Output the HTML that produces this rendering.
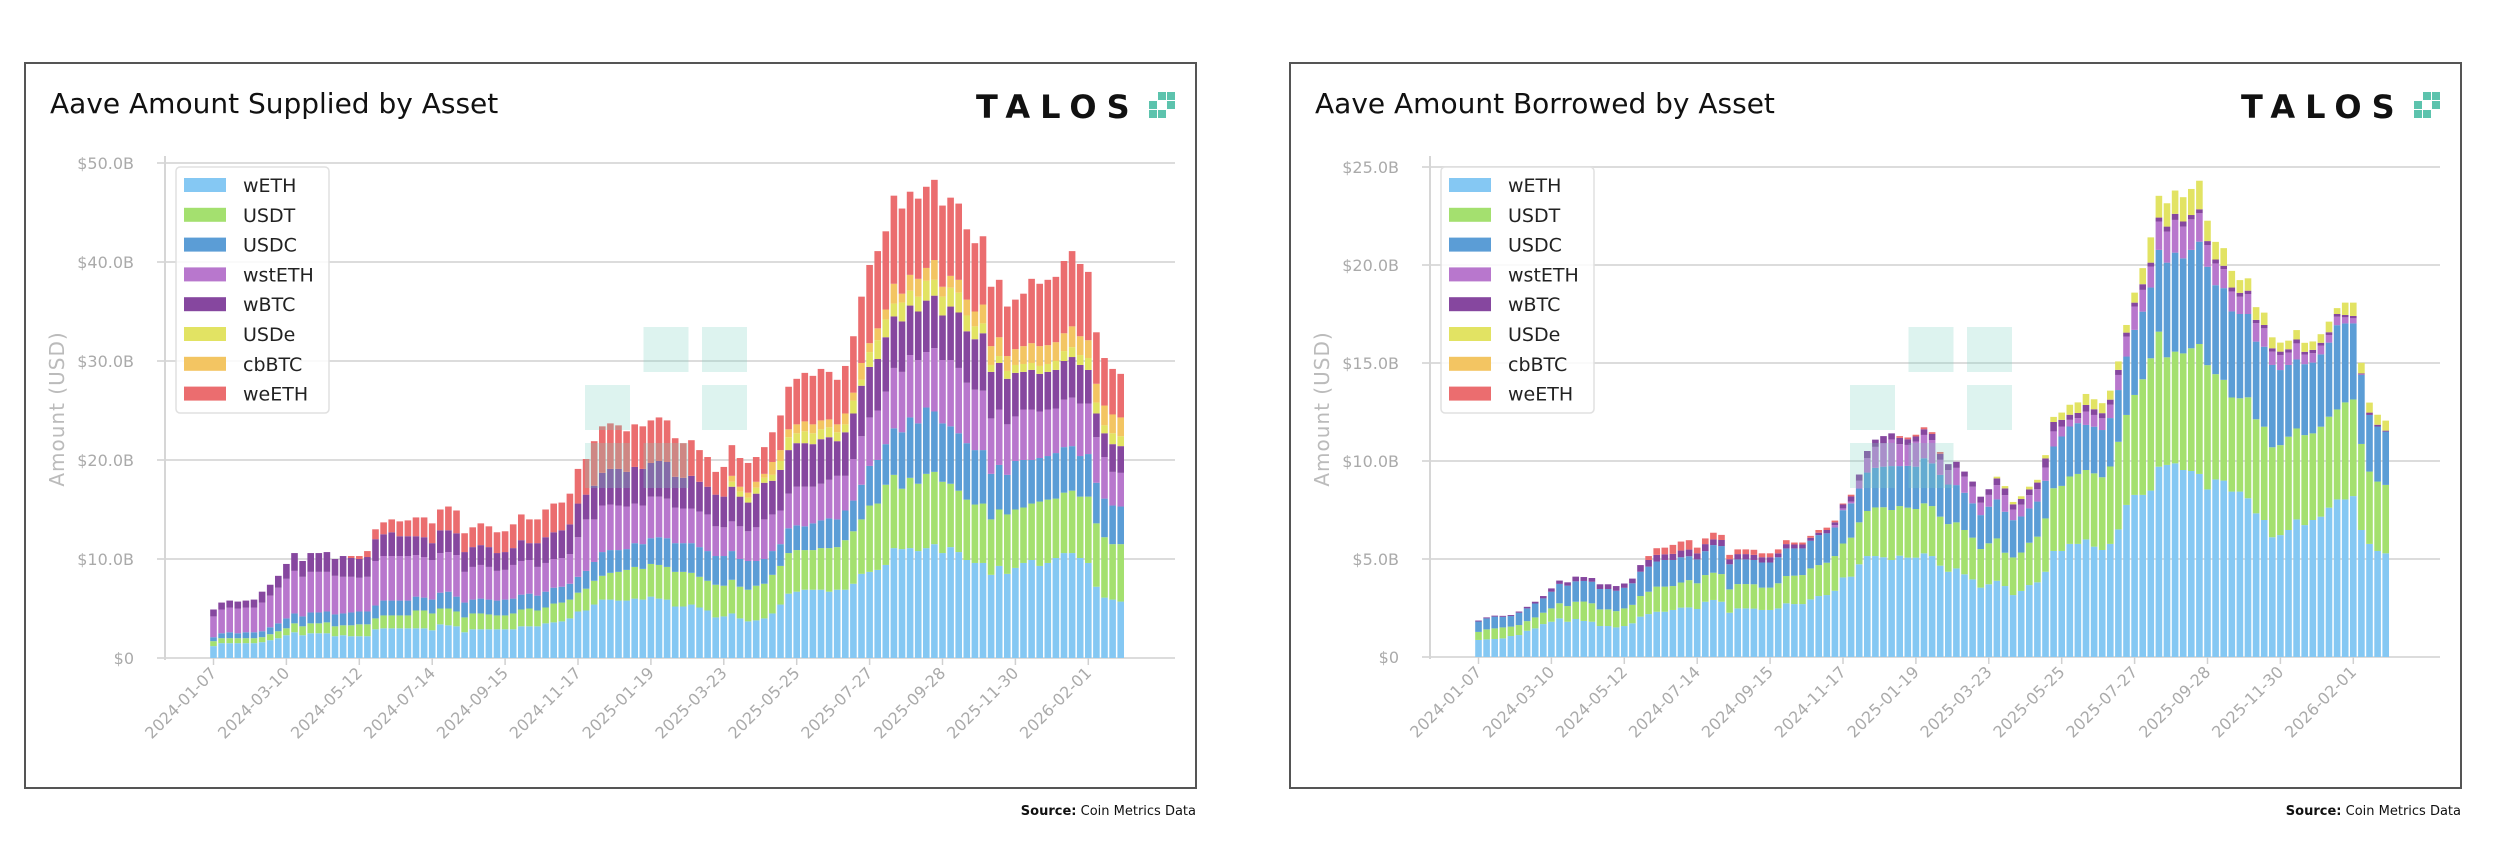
<!DOCTYPE html>
<html>
<head>
<meta charset="utf-8">
<style>
html,body{margin:0;padding:0;background:#fff;}
svg{display:block;font-family:"DejaVu Sans","Liberation Sans",sans-serif;}
</style>
</head>
<body>
<svg id="chart" width="2500" height="856" viewBox="0 0 2500 856" xmlns="http://www.w3.org/2000/svg"></svg>
<script>
// ---------- shared categories / labels ----------
const startDate = "2024-01-07";
const tickLabels = ["2024-01-07","2024-03-10","2024-05-12","2024-07-14","2024-09-15","2024-11-17","2025-01-19","2025-03-23","2025-05-25","2025-07-27","2025-09-28","2025-11-30","2026-02-01"];
const assetNames = ["wETH","USDT","USDC","wstETH","wBTC","USDe","cbBTC","weETH"];
const assetColors = ["#85c8f3","#a4e06f","#5b9dd6","#b877cd","#86479f","#e2e363","#f3c562","#eb6d6f"];

// ---------- Supplied (USD billions) ----------
const supWETH = [
1.2,1.5,1.5,1.5,1.5,1.5,1.6,1.8,2.0,2.3,
2.6,2.3,2.5,2.5,2.5,2.2,2.3,2.2,2.2,2.2,
2.9,3.0,3.0,3.0,3.0,3.0,3.0,2.8,3.4,3.3,
3.2,2.6,2.9,2.9,2.9,2.9,2.9,2.9,3.2,3.2,
3.2,3.5,3.6,3.7,4.0,4.7,4.8,5.4,5.9,5.9,
5.8,5.8,6.0,5.9,6.2,6.0,5.9,5.2,5.2,5.4,
5.1,4.8,4.1,4.2,4.5,4.0,3.7,3.8,4.0,4.5,
5.4,6.5,6.7,6.9,6.9,6.9,6.7,6.9,6.9,7.5,
8.5,8.7,8.9,9.4,11.1,11.0,11.1,10.8,11.1,11.5,
10.6,11.2,10.7,9.9,9.6,9.6,8.4,9.3,8.5,9.1,
9.6,9.9,9.3,9.6,10.1,10.6,10.6,10.1,9.6,7.2,
6.1,5.9,5.7];
const supUSDT = [
0.5,0.5,0.5,0.5,0.5,0.5,0.5,0.6,0.7,0.7,
0.9,0.9,1.0,1.0,1.1,1.0,1.0,1.1,1.2,1.2,
1.1,1.3,1.3,1.3,1.3,1.8,1.8,1.7,1.6,1.7,
1.5,1.5,1.6,1.6,1.5,1.4,1.4,1.6,1.7,1.8,
1.6,1.6,1.9,1.9,1.9,1.9,2.2,2.4,2.4,2.7,
2.9,3.1,3.2,3.1,3.3,3.4,3.3,3.5,3.5,3.2,
3.1,3.0,3.3,3.1,3.4,3.2,3.2,3.5,3.5,3.9,
3.9,4.1,4.2,4.0,4.0,4.2,4.4,4.3,5.0,5.3,
5.5,6.7,6.7,8.1,7.4,6.1,7.1,6.8,7.5,7.3,
7.2,6.4,6.2,6.1,5.9,6.0,5.6,5.7,6.0,5.9,
5.6,5.7,6.5,6.4,6.0,6.1,6.3,6.2,6.7,6.4,
6.1,5.6,5.8];
const supUSDC = [
0.4,0.5,0.6,0.5,0.6,0.6,0.6,0.7,0.8,1.0,
1.0,1.0,1.1,1.1,1.1,1.2,1.2,1.3,1.3,1.3,
1.3,1.5,1.5,1.5,1.5,1.4,1.3,1.4,1.6,1.7,
1.5,1.5,1.4,1.5,1.5,1.5,1.6,1.5,1.5,1.5,
1.5,1.6,1.6,1.6,1.6,1.6,1.8,1.9,2.4,2.3,
2.2,2.1,2.4,2.5,2.6,2.8,2.9,2.9,2.9,3.0,
3.0,3.0,2.9,3.0,2.9,2.8,2.9,2.5,2.5,2.4,
2.2,2.5,2.5,2.4,2.7,2.8,3.0,2.8,3.0,3.1,
3.5,4.0,4.4,4.1,4.7,5.7,6.1,6.1,6.7,6.1,
5.9,5.8,5.8,5.7,5.5,5.4,4.6,4.5,4.0,4.9,
4.8,4.4,4.4,4.4,4.6,4.6,4.5,4.1,4.3,4.1,
3.9,3.9,3.8];
const supWSTETH = [
2.1,2.4,2.5,2.5,2.5,2.5,2.9,3.2,3.6,4.0,
4.3,4.0,4.1,4.1,4.0,3.9,3.7,3.6,3.4,3.5,
4.5,4.5,4.5,4.5,4.5,4.2,4.1,4.0,4.0,4.0,
4.2,3.1,3.3,3.4,3.3,3.0,3.0,3.4,3.4,3.4,
2.9,2.9,2.9,2.9,3.0,4.0,5.2,4.3,4.7,4.6,
4.5,4.3,4.0,3.9,4.2,4.1,4.0,3.6,3.5,3.5,
3.6,3.7,3.0,2.9,3.0,3.3,3.0,3.4,4.0,3.7,
3.4,3.5,3.9,4.0,3.7,3.7,3.9,4.4,3.5,4.2,
4.9,4.9,5.0,5.3,6.1,6.1,6.3,6.4,5.6,6.4,
6.4,6.7,6.6,6.1,6.1,6.0,5.6,5.6,5.1,4.5,
5.1,5.1,4.7,4.7,4.5,4.8,4.9,5.3,5.1,4.6,
4.2,3.4,3.4];
const supWBTC = [
0.7,0.7,0.7,0.7,0.7,0.8,1.1,1.1,1.2,1.5,
1.8,1.6,1.9,1.9,2.0,1.7,2.1,1.9,1.9,2.0,
2.2,2.2,2.4,2.0,2.0,1.9,2.0,1.7,2.3,2.2,
2.2,2.0,2.0,2.0,2.0,1.8,1.8,1.7,2.1,1.7,
2.4,2.6,2.7,2.8,3.0,3.4,2.5,3.4,3.3,3.6,
3.7,3.5,3.7,3.7,3.4,3.6,3.7,3.1,3.1,3.3,
3.0,2.8,3.2,3.1,3.5,3.0,2.9,3.4,3.7,3.4,
4.1,4.4,4.4,4.4,4.3,4.5,4.3,3.5,4.4,4.6,
5.1,5.1,5.2,5.5,5.2,5.1,5.0,4.9,5.2,5.3,
4.5,5.4,5.6,5.2,5.1,5.8,4.7,4.7,4.6,4.4,
3.8,4.0,3.8,3.8,3.9,3.9,4.1,3.9,3.4,2.4,
2.4,2.8,2.7];
const supUSDE = [
0,0,0,0,0,0,0,0,0,0,
0,0,0,0,0,0,0,0,0,0,
0,0,0,0,0,0,0,0,0,0,
0,0,0,0,0,0,0,0,0,0,
0,0,0,0,0,0,0,0,0,0,
0,0,0,0,0,0,0,0,0,0,
0,0,0,0,0.5,0.5,0.5,0.6,0.5,0.6,
0.9,1.3,1.0,1.2,1.1,1.0,1.0,0.9,0.8,1.3,
0.6,1.5,1.9,1.8,1.3,1.9,1.5,1.5,2.0,1.6,
1.9,1.9,2.0,1.6,1.3,1.0,0.7,0.7,0.8,0.8,
0.8,0.7,0.8,0.8,0.9,1.0,1.0,1.0,1.2,1.1,
0.8,1.1,1.0];
const supCBBTC = [
0,0,0,0,0,0,0,0,0,0,
0,0,0,0,0,0,0,0,0,0,
0,0,0,0,0,0,0,0,0,0,
0,0,0,0,0,0,0,0,0,0,
0,0,0,0,0,0,0,0,0,0,
0,0,0,0,0,0,0,0,0,0,
0,0,0,0,0.6,0.5,0.5,0.6,0.4,1.3,
1.1,0.8,0.9,1.0,0.9,0.9,0.8,0.8,1.1,0.8,
1.7,0.9,1.2,1.0,2.0,0.9,1.6,1.8,1.3,2.0,
1.0,1.2,1.3,1.6,1.5,1.9,1.9,1.9,1.5,1.6,
1.8,2.0,2.0,1.9,1.9,1.8,2.1,1.9,1.8,1.9,
2.0,1.9,1.9];
const supWEETH = [
0,0,0,0,0,0,0,0,0,0,
0,0,0,0,0,0,0,0.2,0.3,0.6,
1.0,1.2,1.3,1.5,1.6,1.9,2.0,2.0,2.1,2.4,
2.3,1.9,2.0,2.2,2.1,2.1,2.1,2.4,2.6,2.4,
2.4,2.8,2.9,2.8,3.1,3.5,3.6,4.5,4.7,4.6,
4.4,4.1,4.3,4.3,4.3,4.4,4.2,3.9,3.5,3.6,
3.2,3.0,2.3,3.0,3.1,2.9,3.0,2.5,2.7,3.0,
3.5,4.3,4.6,4.9,4.9,5.2,4.8,4.5,4.8,5.7,
6.7,7.9,7.8,7.9,8.9,8.6,8.4,8.1,8.2,8.1,
8.2,7.9,7.7,7.1,6.9,6.9,6.0,5.8,5.0,5.0,
5.3,6.5,6.3,6.6,6.6,7.3,7.6,7.3,6.9,5.2,
4.8,4.6,4.4];

// ---------- Borrowed (USD billions) ----------
const borWETH = [
0.87,0.9,0.92,0.95,1.07,1.12,1.34,1.46,1.68,1.8,
1.97,1.8,1.94,1.84,1.8,1.58,1.58,1.51,1.58,1.72,
2.06,2.19,2.31,2.31,2.4,2.52,2.53,2.45,2.82,2.91,
2.82,2.26,2.48,2.48,2.47,2.4,2.4,2.48,2.74,2.7,
2.7,2.94,3.11,3.16,3.38,4.06,4.1,4.73,5.15,5.15,
5.09,4.95,5.17,5.07,5.07,5.29,5.15,4.66,4.35,4.52,
4.22,3.96,3.54,3.71,3.89,3.62,3.16,3.37,3.67,3.81,
4.35,5.41,5.41,5.77,5.77,6.0,5.63,5.46,5.77,6.51,
7.76,8.27,8.27,8.49,9.71,9.8,9.88,9.54,9.49,9.34,
8.55,9.06,9.0,8.44,8.44,8.1,7.33,6.99,6.11,6.22,
6.48,7.02,6.73,6.99,7.16,7.62,8.04,8.04,8.21,6.48,
5.77,5.41,5.29];
const borUSDT = [
0.41,0.51,0.54,0.56,0.48,0.51,0.49,0.56,0.58,0.68,
0.77,0.8,0.88,0.99,0.94,0.85,0.85,0.83,0.9,0.94,
1.05,1.14,1.28,1.28,1.22,1.28,1.39,1.31,1.36,1.39,
1.41,1.19,1.24,1.24,1.24,1.14,1.14,1.28,1.39,1.45,
1.48,1.58,1.58,1.65,1.77,1.73,1.99,2.14,2.3,2.48,
2.55,2.55,2.53,2.55,2.48,2.55,2.55,2.5,2.43,2.35,
2.26,2.13,1.97,2.09,2.16,1.7,1.92,1.96,2.16,2.33,
2.72,3.2,3.32,3.44,3.57,3.54,3.74,3.71,3.95,4.47,
4.59,5.1,5.9,6.75,6.89,5.49,5.7,5.95,6.26,6.63,
6.34,5.37,5.14,4.8,4.76,5.15,4.8,4.76,4.59,4.59,
4.76,4.64,4.59,4.42,4.59,4.64,4.59,4.95,4.93,4.39,
3.69,3.54,3.49];
const borUSDC = [
0.53,0.56,0.6,0.54,0.54,0.63,0.65,0.71,0.73,0.85,
0.99,1.04,1.04,1.05,1.1,1.04,1.04,1.04,1.05,1.1,
1.24,1.28,1.28,1.36,1.33,1.29,1.22,1.22,1.22,1.41,
1.43,1.28,1.26,1.26,1.24,1.28,1.28,1.33,1.41,1.39,
1.36,1.41,1.53,1.5,1.46,1.7,1.75,1.73,1.96,2.02,
2.07,2.24,2.04,2.13,2.16,2.3,2.18,2.13,2.02,1.9,
1.9,1.75,1.73,1.87,1.99,2.09,1.9,1.84,1.75,1.79,
1.92,2.13,2.52,2.55,2.59,2.3,2.38,2.41,2.47,2.64,
2.98,3.32,3.45,3.61,4.17,4.83,5.05,4.85,5.02,5.22,
5.02,4.54,4.68,4.39,4.3,4.25,3.96,4.08,4.2,3.83,
3.66,3.52,3.62,3.61,3.69,3.78,4.3,4.03,3.88,3.52,
2.89,2.81,2.72];
const borWSTETH = [
0,0,0,0,0,0,0,0,0,0,
0,0,0,0,0,0,0,0,0,0,
0,0,0,0,0,0,0,0,0,0,
0,0,0,0,0,0,0,0,0,0,
0,0,0,0,0.12,0.09,0.09,0.39,0.73,1.07,
1.19,1.36,1.12,1.07,1.28,1.19,1.19,0.77,0.73,0.88,
0.82,0.85,0.63,0.6,0.73,0.85,0.54,0.6,0.68,0.63,
0.68,0.77,0.51,0.34,0.26,0.68,0.6,0.6,0.68,0.77,
1.02,1.19,1.11,1.07,1.45,1.58,1.67,1.62,1.56,1.45,
1.11,1.11,0.97,1.02,0.88,1.02,0.94,0.94,0.68,0.77,
0.63,0.82,0.49,0.48,0.44,0.39,0.43,0.31,0.26,0.03,
0,0,0];
const borWBTC = [
0.05,0.05,0.05,0.05,0.05,0.06,0.08,0.09,0.12,0.17,
0.17,0.17,0.24,0.2,0.19,0.24,0.24,0.24,0.22,0.24,
0.34,0.34,0.34,0.29,0.31,0.34,0.34,0.31,0.36,0.29,
0.31,0.26,0.27,0.27,0.26,0.27,0.27,0.2,0.22,0.2,
0.2,0.15,0.12,0.17,0.14,0.2,0.26,0.32,0.37,0.37,
0.37,0.31,0.32,0.29,0.26,0.29,0.31,0.31,0.31,0.31,
0.26,0.26,0.31,0.29,0.34,0.34,0.27,0.29,0.29,0.34,
0.46,0.48,0.34,0.26,0.26,0.34,0.29,0.26,0.26,0.26,
0.2,0.2,0.29,0.2,0.2,0.26,0.31,0.26,0.22,0.2,
0.2,0.2,0.17,0.2,0.2,0.17,0.17,0.17,0.17,0.17,
0.17,0.2,0.14,0.17,0.15,0.14,0.14,0.12,0.12,0.05,
0.12,0.09,0.05];
const borUSDE = [
0,0,0,0,0,0,0,0,0,0,
0,0,0,0,0,0,0,0,0,0,
0,0,0,0,0,0,0,0,0,0,
0,0,0,0,0,0,0,0,0,0,
0,0,0,0,0,0,0,0,0,0,
0,0,0,0,0,0,0,0,0,0,
0,0,0,0,0.09,0.12,0.12,0.14,0.14,0.14,
0.17,0.26,0.37,0.51,0.54,0.56,0.51,0.51,0.46,0.43,
0.39,0.51,0.82,1.29,1.11,1.19,1.19,1.24,1.33,1.46,
1.04,0.9,0.9,0.85,0.65,0.63,0.65,0.63,0.56,0.46,
0.44,0.48,0.46,0.43,0.44,0.54,0.3,0.63,0.68,0.54,
0.51,0.51,0.51];
const borCBBTC = [
0,0,0,0,0,0,0,0,0,0,
0,0,0,0,0,0,0,0,0,0,
0,0,0,0,0,0,0,0,0,0,
0,0,0,0,0,0,0,0,0,0,
0,0,0,0,0,0,0,0,0,0,
0,0,0,0,0,0,0,0,0,0,
0,0,0,0,0,0,0,0,0,0,
0,0,0,0,0,0,0,0,0,0,
0,0,0,0,0,0,0,0,0,0,
0,0,0,0,0,0,0,0,0,0,
0,0,0,0,0,0,0,0,0,0,
0,0,0];
const borWEETH = [
0,0,0,0,0,0,0,0,0,0,
0,0,0,0,0,0,0,0,0,0,
0,0.2,0.34,0.34,0.46,0.46,0.48,0.29,0.29,0.34,
0.26,0.22,0.24,0.24,0.26,0.2,0.2,0.2,0.2,0.1,
0.1,0.1,0.14,0.12,0.09,0.05,0.09,0,0,0,
0,0,0.09,0.09,0.09,0.1,0.09,0.09,0,0,
0,0,0,0,0,0,0,0,0,0,
0,0,0,0,0,0,0,0,0,0,
0,0,0,0,0,0,0,0,0,0,
0,0,0,0,0,0,0,0,0,0,
0,0,0,0,0,0,0,0,0,0,
0,0,0];

const supYTicks = [0,10,20,30,40,50];
const supYTickLabels = ["$0","$10.0B","$20.0B","$30.0B","$40.0B","$50.0B"];
const borYTicks = [0,5,10,15,20,25];
const borYTickLabels = ["$0","$5.0B","$10.0B","$15.0B","$20.0B","$25.0B"];

// ---------- rendering ----------
const NS = "http://www.w3.org/2000/svg";
const svg = document.getElementById("chart");
function mk(tag, attrs, parent) {
  const e = document.createElementNS(NS, tag);
  for (const k in attrs) e.setAttribute(k, attrs[k]);
  parent.appendChild(e);
  return e;
}
function weekLabel(i) {
  const d = new Date(startDate + "T00:00:00Z");
  d.setUTCDate(d.getUTCDate() + 7 * i);
  return d.toISOString().slice(0, 10);
}

function drawChart(ox, key, titleText, series, yMax, yTicks, yLabels, yTopPx, yZeroPx) {
  const g = mk("g", {transform: "translate(" + ox + ",0)"}, svg);
  
  

  const frame = mk("rect", {x: 25, y: 63, width: 1171, height: 725, fill: "#fff", stroke: "#555", "stroke-width": 2}, g);
  
  

  const title = mk("text", {x: 50, y: 113, "font-size": 28, fill: "#111"}, g);
  title.textContent = titleText;
  
  

  const logo = mk("text", {x: 976, y: 118, "font-size": 32, "font-weight": "bold", fill: "#111", "letter-spacing": 10}, g);
  logo.textContent = "TALOS";
  
  
  const iconCells = [[1,0],[2,0],[0,1],[2,1],[0,2],[1,2]];
  const icon = mk("g", {}, g);
  
  
  iconCells.forEach(c => {
    mk("rect", {x: 1149 + c[0] * 9, y: 92 + c[1] * 9, width: 8, height: 8, fill: "#5cc3ad"}, icon);
  });

  const yScale = v => yZeroPx - (v / yMax) * (yZeroPx - yTopPx);
  const n = series[0].length;
  const step = 8.1;
  const xCenter = i => 213.5 + step * i;
  const bw = 6.6;

  // gridlines + tick labels
  yTicks.forEach((t, k) => {
    const yy = yScale(t);
    const gl = mk("line", {x1: 157, x2: 1175, y1: yy, y2: yy, stroke: "#dcdcdc", "stroke-width": 2}, g);
    
    
    const tl = mk("text", {x: 134, y: yy + 6, "font-size": 16, fill: "#aaa", "text-anchor": "end"}, g);
    tl.textContent = yLabels[k];
    
    
  });
  const axis = mk("line", {x1: 165, x2: 165, y1: 156, y2: yZeroPx + 2, stroke: "#d6d6d6", "stroke-width": 2}, g);
  
  

  // bars
  const bars = mk("g", {}, g);
  
  
  for (let i = 0; i < n; i++) {
    let cum = 0;
    for (let s = 0; s < series.length; s++) {
      const v = series[s][i] || 0;
      if (v <= 0) continue;
      const y0 = yScale(cum), y1 = yScale(cum + v);
      cum += v;
      const r = mk("rect", {x: xCenter(i) - bw / 2, y: y1, width: bw, height: Math.max(0, y0 - y1), fill: assetColors[s]}, bars);
      
      
    }
  }

  // watermark
  const wm = mk("g", {opacity: 0.26}, g);
  
  
  iconCells.forEach(c => {
    mk("rect", {x: 585 + c[0] * 58.5, y: 327 + c[1] * 58, width: 45, height: 45, fill: "#7fd3c3"}, wm);
  });

  // x ticks & labels
  tickLabels.forEach(lbl => {
    const d0 = Date.parse(startDate + "T00:00:00Z");
    const idx = Math.round((Date.parse(lbl + "T00:00:00Z") - d0) / (7 * 86400000));
    const xx = xCenter(idx);
    const tk = mk("line", {x1: xx, x2: xx, y1: yZeroPx, y2: yZeroPx + 7, stroke: "#d0d0d0", "stroke-width": 1.5}, g);
    
    
    const tx = mk("text", {x: xx + 4, y: yZeroPx + 16, "font-size": 16, fill: "#aaa", "text-anchor": "end",
      transform: "rotate(-45 " + (xx + 4) + " " + (yZeroPx + 16) + ")"}, g);
    tx.textContent = lbl;
    
    
  });

  // y axis title
  const yt = mk("text", {x: 64, y: 409, "font-size": 20, fill: "#bbb", "text-anchor": "middle", "letter-spacing": 1,
    transform: "rotate(-90 64 409)"}, g);
  yt.textContent = "Amount (USD)";
  
  

  // legend
  const lg = mk("g", {}, g);
  
  
  mk("rect", {x: 176, y: 167, width: 153, height: 246, rx: 4, fill: "#fff", "fill-opacity": 0.85, stroke: "#e0e0e0", "stroke-width": 1.5}, lg);
  assetNames.forEach((nm, k) => {
    const cy = 185 + k * 29.8;
    const entry = mk("g", {}, lg);
    
    
    mk("rect", {x: 184, y: cy - 7, width: 42, height: 14, fill: assetColors[k]}, entry);
    const lt = mk("text", {x: 243, y: cy + 7, "font-size": 19, fill: "#222"}, entry);
    lt.textContent = nm;
  });

  // source
  const src = mk("text", {x: 1196, y: 815, "font-size": 13, fill: "#111", "text-anchor": "end"}, g);
  
  
  const b = mk("tspan", {"font-weight": "bold"}, src);
  b.textContent = "Source:";
  const t2 = mk("tspan", {}, src);
  t2.textContent = " Coin Metrics Data";
}

drawChart(0, "supplied", "Aave Amount Supplied by Asset",
  [supWETH, supUSDT, supUSDC, supWSTETH, supWBTC, supUSDE, supCBBTC, supWEETH],
  50, supYTicks, supYTickLabels, 163, 658);
drawChart(1265, "borrowed", "Aave Amount Borrowed by Asset",
  [borWETH, borUSDT, borUSDC, borWSTETH, borWBTC, borUSDE, borCBBTC, borWEETH],
  25, borYTicks, borYTickLabels, 167, 657);
</script>
</body>
</html>
